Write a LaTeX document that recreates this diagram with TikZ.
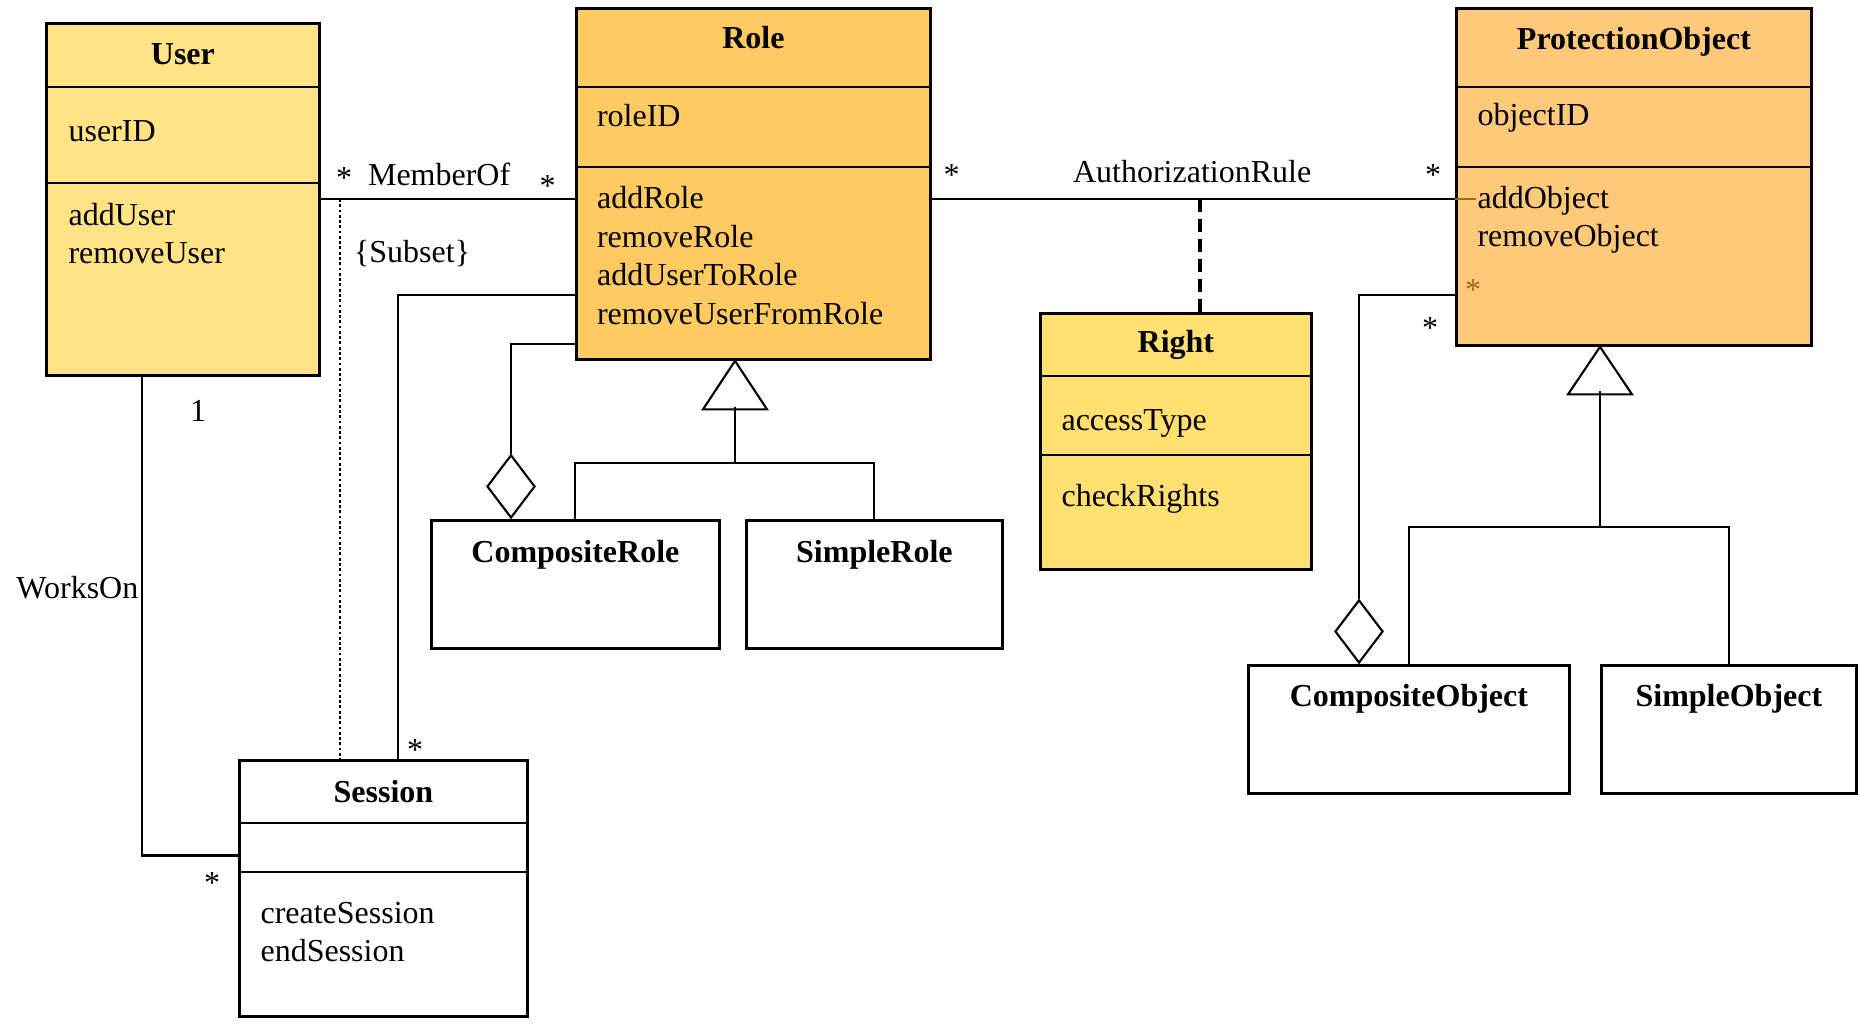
\documentclass[tikz,border=0pt]{standalone}
\usepackage{fontspec}
\setmainfont{Liberation Serif}
\usetikzlibrary{shapes.geometric}
\definecolor{userfill}{RGB}{255,227,133}
\definecolor{rolefill}{RGB}{255,202,96}
\definecolor{objfill}{RGB}{255,201,122}
\definecolor{rightfill}{RGB}{255,224,112}
\definecolor{tracebrown}{RGB}{160,105,35}
\begin{document}
\begin{tikzpicture}[x=0.01cm, y=-0.01cm, line width=0.6pt, font=\fontsize{9.1}{10.95}\selectfont,
  class box/.style={draw, line width=0.75pt, anchor=north west, inner sep=0pt},
  class name/.style={font=\fontsize{9.1}{10.95}\selectfont\bfseries, inner sep=0pt},
  members/.style={anchor=west, align=left, inner sep=0pt},
  mult/.style={inner sep=0pt},
  agg diamond/.style={diamond, draw, fill=white, inner sep=0pt, minimum width=0.48cm, minimum height=0.63cm, anchor=south}]
\useasboundingbox (0,0) rectangle (1858,1023);
% classes
\node[class box, fill=userfill, minimum width=2.73cm, minimum height=3.52cm] (user) at (45,22) {};
\node[class box, fill=rolefill, minimum width=3.54cm, minimum height=3.51cm] (role) at (575,7) {};
\node[class box, fill=objfill, minimum width=3.55cm, minimum height=3.37cm] (obj) at (1455,7) {};
\node[class box, fill=rightfill, minimum width=2.71cm, minimum height=2.56cm] (right) at (1039,312) {};
\node[class box, minimum width=2.88cm, minimum height=1.28cm] (comprole) at (430,519) {};
\node[class box, minimum width=2.56cm, minimum height=1.28cm] (simprole) at (745,519) {};
\node[class box, minimum width=3.21cm, minimum height=1.28cm] (compobj) at (1247,664) {};
\node[class box, minimum width=2.55cm, minimum height=1.28cm] (simpobj) at (1600,664) {};
\node[class box, minimum width=2.88cm, minimum height=2.56cm] (session) at (238,759) {};
\begin{scope}[line width=0.75pt]
\draw (user.west |- 0,87) -- (user.east |- 0,87);
\draw (user.west |- 0,183) -- (user.east |- 0,183);
\draw (role.west |- 0,87) -- (role.east |- 0,87);
\draw (role.west |- 0,167) -- (role.east |- 0,167);
\draw (obj.west |- 0,87) -- (obj.east |- 0,87);
\draw (obj.west |- 0,167) -- (obj.east |- 0,167);
\draw (right.west |- 0,376) -- (right.east |- 0,376);
\draw (right.west |- 0,455) -- (right.east |- 0,455);
\draw (session.west |- 0,823) -- (session.east |- 0,823);
\draw (session.west |- 0,872) -- (session.east |- 0,872);
\end{scope}
% names and members
\node[class name] (usertitle) at (user.north |- 0,54.5) {User};
\node[members] (userattr) at (67.5,131.5) {userID};
\node[members] (userops) at (67.5,233.5) {addUser\\removeUser};
\node[class name] (roletitle) at (role.north |- 0,38) {Role};
\node[members] (roleattr) at (596,115.5) {roleID};
\node[members] (roleops) at (596,255.5) {addRole\\removeRole\\addUserToRole\\removeUserFromRole};
\node[class name] (objtitle) at (obj.north |- 0,41.5) {ProtectionObject};
\node[members] (objattr) at (1476.5,118) {objectID};
\node[members] (objops) at (1476.5,220) {addObject\\removeObject};
\node[class name] (righttitle) at (right.north |- 0,345) {Right};
\node[members] (rightattr) at (1060.5,423) {accessType};
\node[members] (rightops) at (1060.5,498.5) {checkRights};
\node[class name] (comproletitle) at (comprole.north |- 0,554.5) {CompositeRole};
\node[class name] (simproletitle) at (simprole.north |- 0,554.5) {SimpleRole};
\node[class name] (compobjtitle) at (compobj.north |- 0,699) {CompositeObject};
\node[class name] (simpobjtitle) at (simpobj.north |- 0,699) {SimpleObject};
\node[class name] (sessiontitle) at (session.north |- 0,791.5) {Session};
\node[members] (sessionops) at (259.5,932) {createSession\\endSession};
% associations
\draw (user.east |- 0,199) -- (role.west |- 0,199);
\coordinate (subset) at (340,199);
\draw[line width=0.8pt, dash pattern=on 0.8pt off 0.7pt] (subset) -- (subset |- session.north);
\draw (role.west |- 0,295) -| (session.north -| 398,0);
\draw (user.south -| 142,0) |- (session.west |- 0,855.5);
\draw (role.east |- 0,199) -- (obj.west |- 0,199);
\draw[tracebrown] (obj.west |- 0,199) -- ++(21,0);
\coordinate (ruleknot) at (1200,199);
\draw[line width=1.2pt, dash pattern=on 3.7pt off 2pt] (ruleknot) -- (ruleknot |- right.north);
% aggregations
\node[agg diamond] (roleagg) at (comprole.north -| 511,0) {};
\draw (role.west |- 0,344) -| (roleagg.north);
\node[agg diamond] (objagg) at (compobj.north -| 1359,0) {};
\draw (obj.west |- 0,295) -| (objagg.north);
% generalizations
\coordinate (rolegen) at (role.south -| 735,0);
\draw[fill=white] (rolegen) -- ++(32,48.5) -- ++(-64,0) -- cycle;
\coordinate (rolegenbase) at (735,406.5);
\draw (rolegenbase) -- (rolegenbase |- 0,463);
\draw (comprole.north) -- (comprole.north |- 0,463) -- (simprole.north |- 0,463) -- (simprole.north);
\coordinate (objgen) at (obj.south -| 1600,0);
\draw[fill=white] (objgen) -- ++(32,47.5) -- ++(-64,0) -- cycle;
\coordinate (objgenbase) at (1600,391);
\draw (objgenbase) -- (objgenbase |- 0,527);
\draw (compobj.north) -- (compobj.north |- 0,527) -- (simpobj.north |- 0,527) -- (simpobj.north);
% labels
\node[mult] (m1) at (344,178) {*};
\node[mult, anchor=west] (memberof) at (367,174.5) {MemberOf};
\node[mult] (m2) at (547.5,186) {*};
\node[mult, anchor=west] (subsetlabel) at (353,254) {\{Subset\}};
\node[mult] (m3) at (415,750) {*};
\node[mult] (m4) at (198,411) {1};
\node[mult, anchor=west] (workson) at (15.4,588) {WorksOn};
\node[mult] (m5) at (212,883) {*};
\node[mult] (m6) at (951.5,175.5) {*};
\node[mult, anchor=west] (authrule) at (1072,172) {AuthorizationRule};
\node[mult] (m7) at (1433,175.5) {*};
\node[mult, text=tracebrown] (m8) at (1473,290) {*};
\node[mult] (m9) at (1430,328) {*};
\end{tikzpicture}
\end{document}
